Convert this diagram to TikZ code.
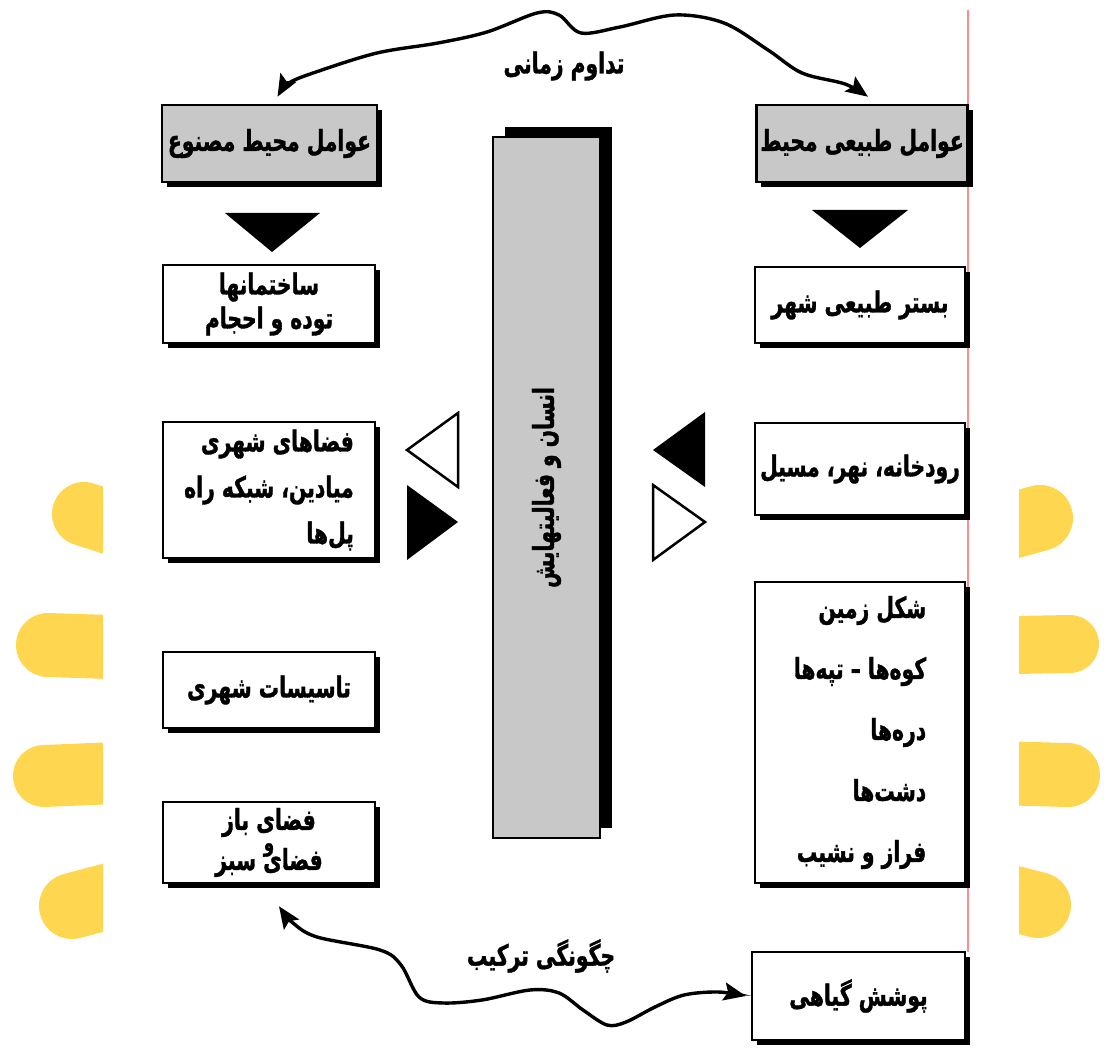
\documentclass[tikz,border=0pt]{standalone}
\usepackage{fontspec}
\newfontfamily\farsi[Script=Arabic, FakeStretch=0.7, BoldFeatures={FakeBold=1.2}]{DejaVu Sans}
\TeXXeTstate=1
\usetikzlibrary{shadows,arrows.meta}
\newcommand{\fa}[1]{\beginR #1\endR}
\definecolor{boxgray}{RGB}{200,200,200}
\definecolor{sunyellow}{RGB}{255,214,80}
\definecolor{edgered}{RGB}{255,140,140}
\tikzset{
  fatext/.style={font=\farsi\bfseries\fontsize{29}{34}\selectfont},
  box/.style={draw, line width=2.5pt, fill=white, minimum width=212pt, inner sep=4pt, fatext,
    general shadow={fill=black, shadow xshift=5pt, shadow yshift=-5pt}},
  graybox/.style={box, fill=boxgray},
  bar/.style={draw, line width=2pt, fill=boxgray, minimum width=107pt, minimum height=701pt,
    general shadow={fill=black, shadow xshift=12pt, shadow yshift=10pt}},
  pointer/.style={line width=2.5pt, line join=miter},
  wave/.style={line width=3.4pt, {Stealth[length=22pt,width=18pt,inset=4pt]}-{Stealth[length=22pt,width=18pt,inset=4pt]}},
  ray/.style={sunyellow, line cap=round},
}
\begin{document}
\begin{tikzpicture}[x=1pt, y=-1pt]
  \useasboundingbox (0,0) rectangle (1104,1048);
  \begin{scope}
    \clip (0,0) rectangle (103,1048);
    \draw[ray, line width=64pt] (84,514) -- (140,532);
    \draw[ray, line width=64pt] (48,645) -- (140,648);
    \draw[ray, line width=62pt] (44,776) -- (140,772);
    \draw[ray, line width=66pt] (72,906) -- (140,888);
  \end{scope}
  \begin{scope}
    \clip (1019,0) rectangle (1104,1048);
    \draw[ray, line width=66pt] (1040,518) -- (960,540);
    \draw[ray, line width=58pt] (1070,644) -- (960,646);
    \draw[ray, line width=64pt] (1068,775) -- (960,772);
    \draw[ray, line width=66pt] (1038,905) -- (960,885);
  \end{scope}
  \draw[edgered, line width=1.2pt] (968,10) -- (968,952);

  \node[graybox, minimum width=215pt, minimum height=77pt] (lgray) at (269.5,143.5) {\fa{عوامل محیط مصنوع}};
  \node[graybox, minimum width=210pt, minimum height=77pt] (rgray) at (862,143.5) {\fa{عوامل طبیعی محیط}};

  \node[box, minimum height=78pt, align=center] (lbuild) at (269,304) {\fa{ساختمانها}\\[0pt]\fa{توده و احجام}};
  \node[box, minimum height=136pt, align=right] (lspace) at (269,490) {\fa{فضاهای شهری}\\[12pt]\fa{میادین، شبکه راه}\\[12pt]\fa{پل‌ها}};
  \node[box, minimum height=76pt] (lfacil) at (269,690) {\fa{تاسیسات شهری}};
  \node[box, minimum height=81pt, align=center] (lopen) at (269,842.5) {\fa{فضای باز}\\[-13pt]{\fontsize{24}{24}\selectfont\fa{و}}\\[-15pt]\fa{فضای سبز}};

  \node[box, minimum width=210pt, minimum height=76pt] (rbed) at (860,305) {\fa{بستر طبیعی شهر}};
  \node[box, minimum width=210pt, minimum height=92pt] (rriver) at (860,469) {\fa{رودخانه، نهر، مسیل}};
  \node[box, minimum width=210pt, minimum height=301pt, align=right] (rland) at (860,732.5) {\fa{شکل زمین}\\[27pt]\fa{کوه‌ها – تپه‌ها}\\[27pt]\fa{دره‌ها}\\[27pt]\fa{دشت‌ها}\\[27pt]\fa{فراز و نشیب}};
  \node[box, minimum width=213pt, minimum height=88pt] (rveg) at (858.5,996) {\fa{پوشش گیاهی}};

  \node[bar] (human) at (546.5,487.5) {};
  \node[rotate=90, font=\farsi\bfseries\fontsize{29}{34}\selectfont] (humantext) at (human.center) {\fa{انسان و فعالیتهایش}};

  \fill (225,213) -- (320,213) -- (272,252) -- cycle;
  \fill (812,210) -- (908,210) -- (860,248) -- cycle;
  \draw[pointer] (458,413) -- (458,487) -- (407,450) -- cycle;
  \fill (407,485) -- (407,560) -- (458,522) -- cycle;
  \fill (705,412) -- (705,487) -- (653,450) -- cycle;
  \draw[pointer] (653,485) -- (653,560) -- (705,522) -- cycle;

  \coordinate (ltip) at ([xshift=8pt,yshift=7pt]lgray.north);
  \coordinate (rtip) at ([xshift=6pt,yshift=7pt]rgray.north);
  \draw[wave] plot[smooth, tension=0.55] coordinates {(ltip) (289,83) (316,72) (377,53) (438,43) (487,32) (537,13) (559,15) (581,33) (620,27) (675,15) (724,23) (768,50) (802,73) (845,84) (rtip)};
  \node[fatext] (timelabel) at (564,66) {\fa{تداوم زمانی}};

  \coordinate (btip) at ([xshift=10pt,yshift=-22pt]lopen.south);
  \coordinate (vtip) at ([xshift=-5pt]rveg.west);
  \draw[wave] plot[smooth, tension=0.55] coordinates {(btip) (293,923) (317,937) (380,950) (401,965) (419,997) (443,1003) (482,1000) (530,990) (559,993) (583,1010) (607,1025) (626,1022) (655,1007) (684,995) (718,992) (vtip)};
  \node[fatext] (mixlabel) at (541,956) {\fa{چگونگی ترکیب}};
\end{tikzpicture}
\end{document}
